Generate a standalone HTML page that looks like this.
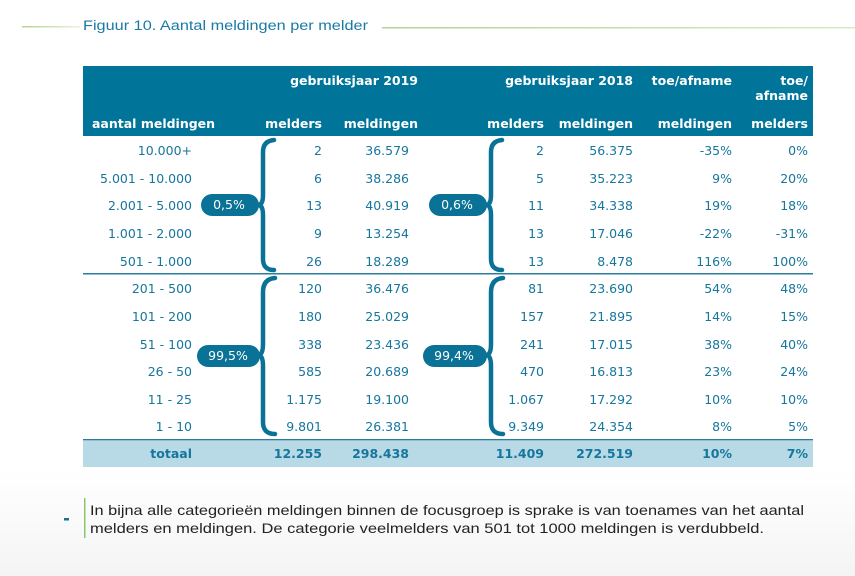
<!DOCTYPE html>
<html><head><meta charset="utf-8"><style>
html,body{margin:0;padding:0;}
body{width:855px;height:576px;overflow:hidden;background:linear-gradient(#fff 0,#fff 470px,#f4f4f4 576px);font-family:"DejaVu Sans","Liberation Sans",sans-serif;}
svg{display:block}
</style></head><body>
<svg width="855" height="576" xmlns="http://www.w3.org/2000/svg" font-family="DejaVu Sans, Liberation Sans, sans-serif">
<defs><linearGradient id="g1" x1="0" x2="1"><stop offset="0" stop-color="#b5d38e"/><stop offset="1" stop-color="#e8f2dc"/></linearGradient>
<linearGradient id="g2" x1="0" x2="1"><stop offset="0" stop-color="#b5d38e"/><stop offset="1" stop-color="#d8ebc3"/></linearGradient></defs>
<rect x="22" y="26" width="58" height="1.5" fill="url(#g1)"/>
<rect x="382" y="27" width="473" height="1.5" fill="url(#g2)"/>
<text x="83" y="30" font-size="13.5" fill="#1a7aa6" font-family="Liberation Sans, sans-serif" textLength="285" lengthAdjust="spacingAndGlyphs">Figuur 10. Aantal meldingen per melder</text>
<rect x="83" y="66" width="730" height="70" fill="#007599"/>
<g fill="#fff" font-size="12.5" font-weight="bold" text-anchor="end">
<text x="418" y="85">gebruiksjaar 2019</text>
<text x="633" y="85">gebruiksjaar 2018</text>
<text x="732" y="85">toe/afname</text>
<text x="808" y="85">toe/</text>
<text x="808" y="100">afname</text>
<text x="322" y="128">melders</text>
<text x="418" y="128">meldingen</text>
<text x="544" y="128">melders</text>
<text x="633" y="128">meldingen</text>
<text x="732" y="128">meldingen</text>
<text x="808" y="128">melders</text>
<text x="92" y="128" text-anchor="start">aantal meldingen</text>
</g>
<rect x="83" y="273" width="730" height="1.5" fill="#2a7d9c"/>
<rect x="83" y="439" width="730" height="1.5" fill="#2a7d9c"/>
<rect x="83" y="441" width="730" height="26" fill="#b8dae7"/>
<g fill="#16769c" font-size="12.5">
<g text-anchor="end">
<text x="192" y="155">10.000+</text><text x="192" y="183">5.001 - 10.000</text><text x="192" y="210">2.001 - 5.000</text><text x="192" y="238">1.001 - 2.000</text><text x="192" y="266">501 - 1.000</text>
<text x="192" y="293">201 - 500</text><text x="192" y="321">101 - 200</text><text x="192" y="349">51 - 100</text><text x="192" y="376">26 - 50</text><text x="192" y="404">11 - 25</text><text x="192" y="431">1 - 10</text>
</g>
<g text-anchor="end">
<text x="322" y="155">2</text><text x="409" y="155">36.579</text><text x="544" y="155">2</text><text x="633" y="155">56.375</text><text x="732" y="155">-35%</text><text x="808" y="155">0%</text>
<text x="322" y="183">6</text><text x="409" y="183">38.286</text><text x="544" y="183">5</text><text x="633" y="183">35.223</text><text x="732" y="183">9%</text><text x="808" y="183">20%</text>
<text x="322" y="210">13</text><text x="409" y="210">40.919</text><text x="544" y="210">11</text><text x="633" y="210">34.338</text><text x="732" y="210">19%</text><text x="808" y="210">18%</text>
<text x="322" y="238">9</text><text x="409" y="238">13.254</text><text x="544" y="238">13</text><text x="633" y="238">17.046</text><text x="732" y="238">-22%</text><text x="808" y="238">-31%</text>
<text x="322" y="266">26</text><text x="409" y="266">18.289</text><text x="544" y="266">13</text><text x="633" y="266">8.478</text><text x="732" y="266">116%</text><text x="808" y="266">100%</text>
<text x="322" y="293">120</text><text x="409" y="293">36.476</text><text x="544" y="293">81</text><text x="633" y="293">23.690</text><text x="732" y="293">54%</text><text x="808" y="293">48%</text>
<text x="322" y="321">180</text><text x="409" y="321">25.029</text><text x="544" y="321">157</text><text x="633" y="321">21.895</text><text x="732" y="321">14%</text><text x="808" y="321">15%</text>
<text x="322" y="349">338</text><text x="409" y="349">23.436</text><text x="544" y="349">241</text><text x="633" y="349">17.015</text><text x="732" y="349">38%</text><text x="808" y="349">40%</text>
<text x="322" y="376">585</text><text x="409" y="376">20.689</text><text x="544" y="376">470</text><text x="633" y="376">16.813</text><text x="732" y="376">23%</text><text x="808" y="376">24%</text>
<text x="322" y="404">1.175</text><text x="409" y="404">19.100</text><text x="544" y="404">1.067</text><text x="633" y="404">17.292</text><text x="732" y="404">10%</text><text x="808" y="404">10%</text>
<text x="322" y="431">9.801</text><text x="409" y="431">26.381</text><text x="544" y="431">9.349</text><text x="633" y="431">24.354</text><text x="732" y="431">8%</text><text x="808" y="431">5%</text>
</g>
<g font-weight="bold" text-anchor="end">
<text x="192" y="458">totaal</text><text x="322" y="458">12.255</text><text x="409" y="458">298.438</text><text x="544" y="458">11.409</text><text x="633" y="458">272.519</text><text x="732" y="458">10%</text><text x="808" y="458">7%</text>
</g>
</g>
<g fill="none" stroke="#0a7296" stroke-width="4.5" stroke-linecap="round">
<path d="M274 140 Q263 141 263 152 L263 195 Q263 205 258 205 Q263 205 263 215 L263 259 Q263 270 274 270"/>
<path d="M502 140 Q491 141 491 152 L491 195 Q491 205 486 205 Q491 205 491 215 L491 259 Q491 270 502 270"/>
<path d="M275 278 Q263 279 263 292 L263 344 Q263 355 258 355 Q263 355 263 366 L263 422 Q263 434 275 434"/>
<path d="M503 278 Q491 279 491 292 L491 344 Q491 355 486 355 Q491 355 491 366 L491 422 Q491 434 503 434"/>
</g>
<g fill="#0a7296">
<rect x="201" y="194" width="58" height="22" rx="11"/>
<rect x="429" y="194" width="58" height="22" rx="11"/>
<rect x="197" y="345" width="63" height="22" rx="11"/>
<rect x="423" y="345" width="64" height="22" rx="11"/>
</g>
<g fill="#fff" font-size="12.5" text-anchor="middle">
<text x="229" y="209">0,5%</text><text x="457" y="209">0,6%</text><text x="228" y="360">99,5%</text><text x="454" y="360">99,4%</text>
</g>
<rect x="64" y="518" width="5" height="2.5" fill="#1a7090"/>
<rect x="84" y="498" width="1.5" height="40" fill="#8cc66a"/>
<g font-family="Liberation Sans, sans-serif" font-size="14" fill="#222">
<text x="90" y="515" textLength="714" lengthAdjust="spacingAndGlyphs">In bijna alle categorieën  meldingen binnen de focusgroep is sprake is van toenames van het aantal</text>
<text x="90" y="533" textLength="674" lengthAdjust="spacingAndGlyphs">melders en meldingen. De categorie veelmelders van  501 tot 1000 meldingen is verdubbeld.</text>
</g>
</svg>
</body></html>
